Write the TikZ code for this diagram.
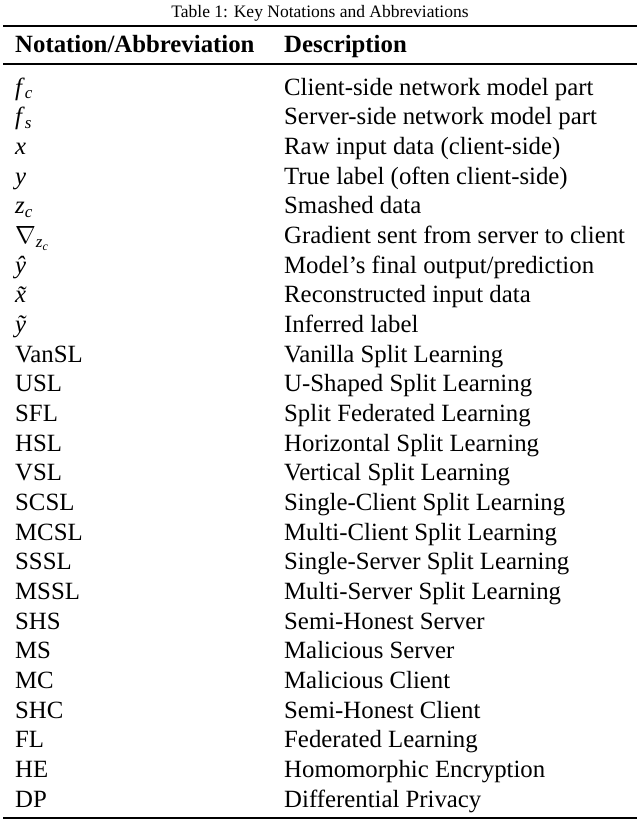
\documentclass[tikz,border=0pt]{standalone}
\usepackage{fontspec}
\setmainfont{Liberation Serif}
\newcommand{\mysb}[1]{\raisebox{-0.35ex}{\fontsize{17}{17}\selectfont\textit{#1}}}
\begin{document}
\begin{tikzpicture}[x=1pt,y=-1pt,
  cell/.style={anchor=base west,inner sep=0pt,font=\fontsize{24.8}{28}\selectfont},
  rulethick/.style={line width=1.9pt},
  rulethin/.style={line width=1.1pt}]
\useasboundingbox (0,0) rectangle (640,823);
\node[anchor=base,inner sep=0pt,font=\fontsize{17.5}{20}\selectfont] (cap) at (320,17) {Table 1: Key Notations and Abbreviations};
\coordinate (tl) at (3,26); \coordinate (tr) at (637,26);
\draw[rulethick] (tl) -- (tr);
\node[cell,font=\fontsize{24.8}{28}\selectfont\bfseries] (h1) at (15,52) {Notation/Abbreviation};
\node[cell,font=\fontsize{24.8}{28}\selectfont\bfseries] (h2) at (284,52) {Description};
\coordinate (ml) at (3,64); \coordinate (mr) at (637,64);
\draw[rulethin] (ml) -- (mr);
\foreach \a/\b [count=\i from 0] in {
 {\textit{f}\mysb{c}}/{Client-side network model part},
 {\textit{f}\mysb{s}}/{Server-side network model part},
 {\textit{x}}/{Raw input data (client-side)},
 {\textit{y}}/{True label (often client-side)},
 {\textit{z}\mysb{c}}/{Smashed data},
 {$\nabla$\mysb{z}\raisebox{-0.6ex}{\fontsize{12}{12}\selectfont\textit{c}}}/{Gradient sent from server to client},
 {\textit{ŷ}}/{Model’s final output/prediction},
 {\textit{x̃}}/{Reconstructed input data},
 {\textit{ỹ}}/{Inferred label},
 VanSL/Vanilla Split Learning,
 USL/U-Shaped Split Learning,
 SFL/Split Federated Learning,
 HSL/Horizontal Split Learning,
 VSL/Vertical Split Learning,
 SCSL/Single-Client Split Learning,
 MCSL/Multi-Client Split Learning,
 SSSL/Single-Server Split Learning,
 MSSL/Multi-Server Split Learning,
 SHS/Semi-Honest Server,
 MS/Malicious Server,
 MC/Malicious Client,
 SHC/Semi-Honest Client,
 FL/Federated Learning,
 HE/Homomorphic Encryption,
 DP/Differential Privacy}{
 \node[cell] (a\i) at (15,95+29.67*\i) {\a};
 \node[cell] (b\i) at (284,95+29.67*\i) {\b};
}
\coordinate (bl) at (3,818); \coordinate (br) at (637,818);
\draw[rulethick] (bl) -- (br);
\end{tikzpicture}
\end{document}
